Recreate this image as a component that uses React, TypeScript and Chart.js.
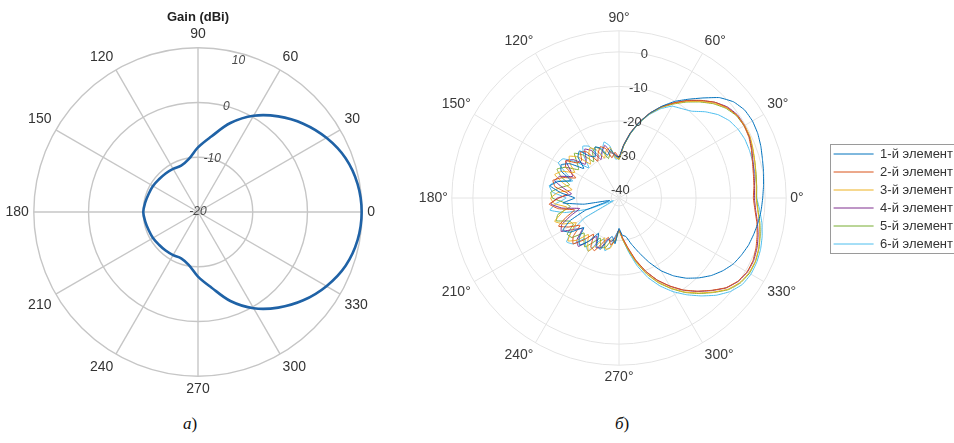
import React, { useEffect, useRef } from 'react';
import { Chart, registerables } from 'chart.js';

Chart.register(...registerables);

const FONT = "'Liberation Sans', Arial, Helvetica, sans-serif";

// ---------- left plot: Gain (dBi) ----------
const gainAngles = [0, 10, 20, 30, 40, 50, 60, 70, 80, 90, 100, 110, 120, 130, 140, 150, 160, 170,
  180, 190, 200, 210, 220, 230, 240, 250, 260, 270, 280, 290, 300, 310, 320, 330, 340, 350];
const gainValues = [9.9, 9.6, 8.7, 7.1, 5.1, 2.8, 0.3, -2.7, -6.0, -8.2, -10.2, -11.0, -10.9, -10.8, -10.7, -10.5, -10.4, -10.2,
  -10.0, -10.2, -10.4, -10.5, -10.7, -10.8, -10.9, -11.0, -10.2, -8.2, -6.0, -2.7, 0.3, 2.8, 5.1, 7.1, 8.7, 9.6];
const gainTicks = [-20, -10, 0, 10];

// ---------- right plot: six elements ----------
const elemAngles = [0, 5, 10, 15, 20, 25, 30, 35, 40, 45, 50, 55, 60, 65, 70, 75, 80, 85, 90,
  95, 100, 105, 110, 115, 120, 125, 130, 135, 140, 145, 150, 155, 160, 165, 170, 175, 180,
  185, 190, 195, 200, 205, 210, 215, 220, 225, 230, 235, 240, 245, 250, 255, 260, 265,
  270, 275, 280, 285, 290, 295, 300, 305, 310, 315, 320, 325, 330, 335, 340, 345, 350, 355];
const elemTicks = [-40, -30, -20, -10, 0];
const elemNames = ['1-й элемент', '2-й элемент', '3-й элемент', '4-й элемент', '5-й элемент', '6-й элемент'];
const elemColors = ['#0072BD', '#D95319', '#EDB120', '#7E2F8E', '#77AC30', '#4DBEEE'];

const element1 = [-0.7, -0.3, 0.2, 0.7, 1.4, 2.0, 2.3, 2.1, 1.0, -1.2, -4.5, -7.4, -10.0, -13.0, -16.2, -19.6, -23.2, -27.0, -30.5,
  -30.0, -28.0, -29.5, -27.0, -26.0, -28.5, -27.5, -24.5, -25.5, -29.0, -25.0, -23.0, -23.8, -27.5, -24.0, -22.0, -25.5, -29.5,
  -26.0, -32.0, -39.5, -32.0, -26.5, -23.5, -25.0, -29.0, -26.0, -24.5, -27.0, -30.5, -27.0, -26.5, -29.5, -31.0, -29.0,
  -33.5, -31.5, -31.0, -28.5, -25.5, -21.8, -18.0, -14.8, -12.0, -9.6, -7.4, -5.6, -4.1, -3.2, -2.4, -1.9, -1.4, -1.0];
const element2 = [-3.4, -3.1, -2.8, -2.3, -1.5, -0.8, -0.5, -0.6, -1.5, -3.1, -5.4, -7.8, -10.5, -13.1, -16.1, -19.5, -23.0, -26.8, -30.5,
  -29.0, -30.5, -27.5, -26.5, -28.0, -30.0, -26.0, -25.0, -27.0, -26.5, -23.5, -24.5, -28.5, -25.0, -22.5, -23.5, -27.5, -25.0,
  -22.0, -24.5, -29.0, -26.0, -23.0, -25.5, -28.5, -25.0, -23.5, -26.5, -29.5, -26.0, -25.5, -28.5, -30.5, -28.5, -30.0,
  -33.2, -30.8, -27.8, -23.8, -19.8, -16.1, -12.9, -9.8, -7.1, -4.5, -1.9, -0.3, 0.5, 0.5, -0.1, -0.9, -1.8, -2.8];
const element3 = [-2.6, -2.4, -2.1, -1.6, -1.0, -0.4, -0.3, -0.6, -1.7, -3.5, -5.8, -8.2, -10.7, -13.3, -16.3, -19.7, -23.3, -27.2, -31.0,
  -30.5, -27.5, -28.0, -30.0, -27.0, -25.5, -27.0, -29.5, -25.5, -23.5, -25.0, -27.5, -24.0, -22.5, -25.5, -28.5, -24.5, -22.5,
  -23.5, -27.0, -25.0, -22.5, -24.5, -28.0, -25.5, -23.0, -25.0, -28.5, -26.5, -24.5, -27.5, -30.0, -27.0, -27.5, -30.5,
  -33.0, -30.3, -27.3, -23.2, -19.1, -15.4, -12.2, -9.1, -6.4, -3.8, -1.2, 0.4, 1.1, 1.2, 0.7, -0.1, -1.0, -2.0];
const element4 = [-3.1, -2.9, -2.6, -2.1, -1.4, -0.6, -0.3, -0.4, -1.3, -3.1, -5.5, -7.9, -10.5, -13.2, -16.2, -19.6, -23.2, -27.0, -30.8,
  -29.5, -29.0, -26.5, -28.0, -30.0, -26.5, -25.0, -27.5, -28.5, -25.0, -23.5, -26.0, -27.5, -24.0, -23.0, -26.0, -28.5, -24.5,
  -22.5, -25.5, -30.5, -27.5, -24.0, -23.0, -26.5, -28.5, -25.0, -24.0, -27.0, -29.5, -26.5, -27.0, -30.0, -29.5, -31.0,
  -33.1, -30.6, -27.6, -23.6, -19.7, -16.0, -12.8, -9.7, -7.0, -4.4, -1.8, -0.2, 0.6, 0.7, 0.2, -0.6, -1.6, -2.6];
const element5 = [-2.5, -2.3, -2.0, -1.6, -1.1, -0.6, -0.5, -0.8, -1.9, -3.7, -6.0, -8.4, -10.9, -13.4, -16.4, -19.8, -23.4, -27.3, -31.2,
  -30.0, -28.5, -30.5, -27.5, -26.0, -27.0, -29.5, -26.0, -24.0, -26.5, -28.0, -24.5, -22.5, -24.5, -27.5, -25.0, -22.5, -23.0,
  -26.5, -28.0, -24.0, -23.0, -26.5, -27.0, -24.0, -24.5, -28.0, -26.5, -25.0, -27.5, -29.5, -27.0, -27.5, -30.0, -29.5,
  -32.8, -30.2, -27.0, -23.0, -18.9, -15.2, -12.0, -8.9, -6.2, -3.6, -1.0, 0.6, 1.3, 1.3, 0.8, 0.0, -0.9, -1.9];
const element6 = [-2.4, -2.3, -2.3, -2.2, -2.1, -2.1, -2.5, -3.3, -4.8, -7.0, -9.5, -10.7, -11.6, -13.8, -16.6, -19.9, -23.5, -27.2, -30.8,
  -31.0, -27.0, -25.5, -28.0, -29.0, -25.0, -24.0, -26.5, -30.0, -26.0, -22.5, -22.0, -25.5, -28.0, -23.5, -21.8, -23.0, -27.0,
  -24.0, -22.0, -26.0, -33.0, -40.5, -31.0, -25.5, -22.5, -23.5, -27.0, -25.5, -24.5, -28.5, -29.5, -26.5, -28.0, -31.5,
  -33.0, -30.5, -26.5, -22.0, -17.8, -14.2, -11.0, -8.1, -5.3, -2.5, -0.2, 1.3, 1.8, 1.7, 1.3, 0.6, -0.3, -1.4];
const elemSeries = [element1, element2, element3, element4, element5, element6];

// Radar charts go clockwise; build the counter-clockwise (math) order from 0° on the right.
function ccwOrder(n: number): number[] {
  const idx: number[] = [];
  for (let k = 0; k < n; k++) idx.push((n - k) % n);
  return idx;
}

function tickTextPlugin(id: string, values: number[], angleDeg: number, font: string, color: string, insetLast: number) {
  return {
    id,
    afterDatasetsDraw(chart: any) {
      const s = chart.scales.r;
      const ctx = chart.ctx;
      const a = (angleDeg * Math.PI) / 180;
      ctx.save();
      ctx.font = font;
      ctx.fillStyle = color;
      ctx.textAlign = 'center';
      ctx.textBaseline = 'middle';
      values.forEach((v, i) => {
        const d = s.getDistanceFromCenterForValue(v) - (i === values.length - 1 ? insetLast : 0);
        ctx.fillText(String(v), s.xCenter + d * Math.cos(a), s.yCenter - d * Math.sin(a));
      });
      ctx.restore();
    },
  };
}

const legendFrame = {
  id: 'legendFrame',
  afterDraw(chart: any) {
    const lg = chart.legend;
    if (!lg || !lg.legendHitBoxes || !lg.legendHitBoxes.length) return;
    const hb = lg.legendHitBoxes;
    const left = Math.min(...hb.map((b: any) => b.left)) - 4;
    const top = Math.min(...hb.map((b: any) => b.top)) - 4;
    const bottom = Math.max(...hb.map((b: any) => b.top + b.height)) + 2;
    const ctx = chart.ctx;
    ctx.save();
    ctx.strokeStyle = '#9a9a9a';
    ctx.lineWidth = 1;
    ctx.strokeRect(Math.round(left) + 0.5, Math.round(top) + 0.5, chart.width + 20 - left, Math.round(bottom - top));
    ctx.restore();
  },
};

export default function App() {
  const leftRef = useRef<HTMLCanvasElement>(null);
  const rightRef = useRef<HTMLCanvasElement>(null);

  useEffect(() => {
    const gOrder = ccwOrder(gainAngles.length);
    const left = new Chart(leftRef.current as HTMLCanvasElement, {
      type: 'radar',
      data: {
        labels: gOrder.map((i) => gainAngles[i]),
        datasets: [
          {
            label: 'Gain (dBi)',
            data: gOrder.map((i) => gainValues[i]),
            borderColor: '#1f62a6',
            borderWidth: 2.6,
            pointRadius: 0,
            pointHoverRadius: 0,
            fill: false,
            tension: 0.35,
          },
        ],
      },
      options: {
        responsive: false,
        animation: false,
        events: [],
        layout: { padding: 0 },
        plugins: {
          legend: { display: false },
          tooltip: { enabled: false },
          title: {
            display: true,
            text: 'Gain (dBi)',
            color: '#222',
            font: { size: 13, weight: 'bold', family: FONT },
            padding: { top: 9.5, bottom: 1.9 },
          },
        },
        scales: {
          r: {
            min: -20,
            max: 10,
            startAngle: 90,
            afterBuildTicks: (s: any) => {
              s.ticks = gainTicks.map((v) => ({ value: v }));
            },
            ticks: { display: false },
            grid: { circular: true, color: '#c6c6c6', lineWidth: 1.4 },
            angleLines: {
              color: '#c6c6c6',
              lineWidth: (c: any) => (Number(gainAngles[gOrder[c.index]]) % 30 === 0 ? 1.4 : 0),
            },
            pointLabels: {
              display: true,
              padding: 5,
              color: '#333',
              font: { size: 14, family: FONT },
              callback: (v: any) => (Number(v) % 30 === 0 ? String(v) : ''),
            },
          },
        },
      } as any,
      plugins: [tickTextPlugin('gainTicks', gainTicks, 75, `italic 12px ${FONT}`, '#4a4a4a', 8)],
    });

    const eOrder = ccwOrder(elemAngles.length);
    const right = new Chart(rightRef.current as HTMLCanvasElement, {
      type: 'radar',
      data: {
        labels: eOrder.map((i) => elemAngles[i]),
        datasets: elemSeries.map((s, k) => ({
          label: elemNames[k],
          data: eOrder.map((i) => s[i]),
          borderColor: elemColors[k],
          backgroundColor: elemColors[k],
          borderWidth: 1,
          pointRadius: 0,
          pointHoverRadius: 0,
          fill: false,
          tension: 0.1,
        })),
      },
      options: {
        responsive: false,
        animation: false,
        events: [],
        layout: { padding: 0 },
        plugins: {
          tooltip: { enabled: false },
          title: { display: false },
          legend: {
            display: true,
            position: 'right',
            labels: {
              usePointStyle: true,
              pointStyle: 'line',
              pointStyleWidth: 40,
              padding: 5,
              color: '#333',
              font: { size: 13, family: FONT },
            },
          },
        },
        scales: {
          r: {
            min: -42.3,
            max: 6.1,
            startAngle: 90,
            afterBuildTicks: (s: any) => {
              s.ticks = [...elemTicks, 6.1].map((v) => ({ value: v }));
            },
            ticks: { display: false },
            grid: { circular: true, color: '#e4e4e4', lineWidth: 1 },
            angleLines: {
              color: '#e4e4e4',
              lineWidth: (c: any) => (Number(elemAngles[eOrder[c.index]]) % 30 === 0 ? 1 : 0),
            },
            pointLabels: {
              display: true,
              padding: 4,
              color: '#3a3a3a',
              font: { size: 14, family: FONT },
              callback: (v: any) => (Number(v) % 30 === 0 ? `${v}°` : ''),
            },
          },
        },
      } as any,
      plugins: [tickTextPlugin('elemTicks', elemTicks, 80, `13px ${FONT}`, '#3a3a3a', 0), legendFrame],
    });

    return () => {
      left.destroy();
      right.destroy();
    };
  }, []);

  const caption: React.CSSProperties = {
    position: 'absolute',
    top: 414,
    fontFamily: "'Liberation Serif', 'Times New Roman', serif",
    fontSize: 17,
    color: '#111',
    whiteSpace: 'nowrap',
  };

  return (
    <div style={{ position: 'absolute', left: 0, top: 0, width: 954, height: 443, overflow: 'hidden', background: '#fff' }}>
      <canvas ref={leftRef} width={430} height={399} style={{ position: 'absolute', left: -17, top: 0 }} />
      <canvas ref={rightRef} width={560} height={376} style={{ position: 'absolute', left: 403, top: 11 }} />
      <div style={{ ...caption, left: 183 }}>
        <i>а</i>)
      </div>
      <div style={{ ...caption, left: 615 }}>
        <i>б</i>)
      </div>
    </div>
  );
}
